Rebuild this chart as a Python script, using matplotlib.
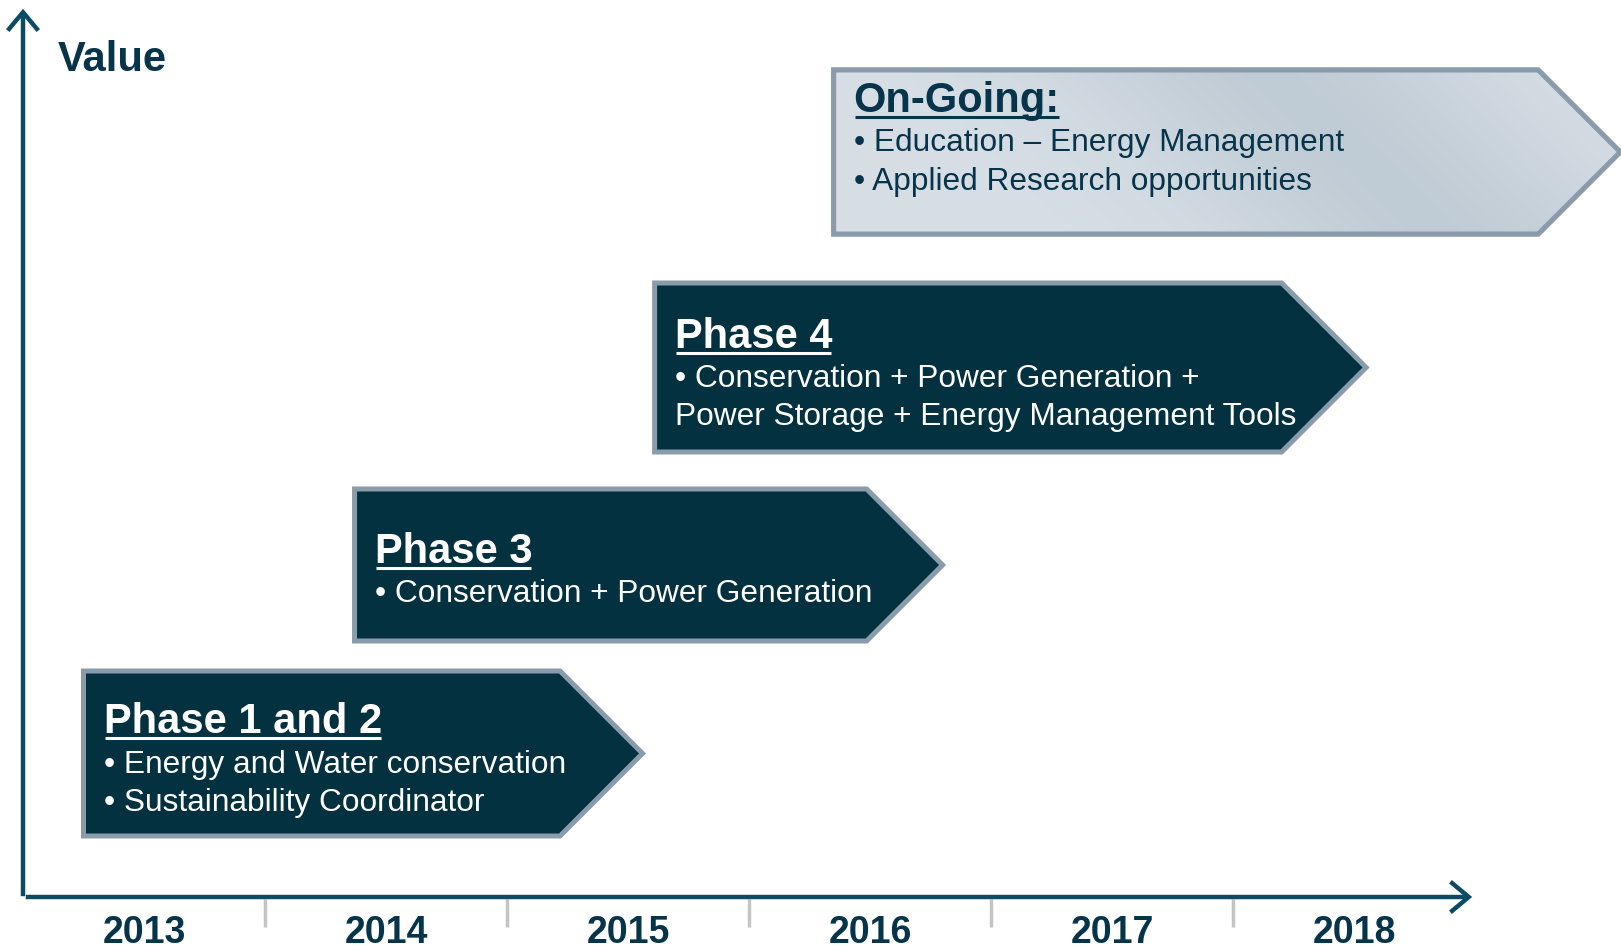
import numpy as np
import matplotlib
matplotlib.use('Agg')
import matplotlib.pyplot as plt
from matplotlib.patches import Polygon, FancyArrowPatch
from matplotlib.lines import Line2D

# ---- data -------------------------------------------------------------
years = [2013, 2014, 2015, 2016, 2017, 2018]
phase_titles = ['Phase 1 and 2', 'Phase 3', 'Phase 4', 'On-Going:']
phase_lines = [
    ['\u2022 Energy and Water conservation', '\u2022 Sustainability Coordinator'],
    ['\u2022 Conservation + Power Generation'],
    ['\u2022 Conservation + Power Generation +', 'Power Storage + Energy Management Tools'],
    ['\u2022 Education \u2013 Energy Management', '\u2022 Applied Research opportunities'],
]
# arrow extents: start year, tip year, low value, high value
phase_start = [2012.75, 2013.87, 2015.11, 2015.85]
phase_tip = [2015.06, 2016.30, 2018.05, 2019.10]
phase_low = [61, 256, 445, 663]
phase_high = [226, 408, 614, 827]
y_label = 'Value'

# ---- style ------------------------------------------------------------
DARK = '#03313f'
BORDER = '#8a9bab'
AXIS = '#0b4c64'
TXT_DARK = '#06344a'
PX_PER_YEAR = 242.0
FONT = 'Liberation Sans'

# title offset from box center and line offsets (pixels)
title_dy = [37, 18, 36, 56]
line_dy = [[-8, -46], [-26], [-8, -46], [12, -27]]

fig = plt.figure(figsize=(16.21, 9.47), dpi=100)
ax = fig.add_axes([0, 0, 1, 1])
ax.set_xlim(2013 - 144 / PX_PER_YEAR, 2013 + (1621 - 144) / PX_PER_YEAR)
ax.set_ylim(-50, 897)
ax.axis('off')

# axes arrows
for tail, head in [((2012.5, -2), (2012.5, 891)), ((2012.5, 0), (2018.5, 0))]:
    ax.add_patch(FancyArrowPatch(tail, head, arrowstyle='->,head_length=0.6,head_width=0.5',
                                 mutation_scale=22, lw=3.2, color=AXIS, capstyle='butt',
                                 joinstyle='miter', zorder=5))

# year separators and labels
for y in years[:-1]:
    ax.plot([y + 0.5, y + 0.5], [-2, -30], color='#c4c4c4', lw=2.5, solid_capstyle='butt')
for y in years:
    ax.text(y, -46, str(y), ha='center', va='baseline', fontsize=27, fontweight='bold',
            color=TXT_DARK, family=FONT)

ax.text(2012.5 + 35 / PX_PER_YEAR, 897 - 60, y_label, fontsize=30, fontweight='bold',
        color=TXT_DARK, family=FONT, va='center', ha='left')

# phase arrows
titles = []
for i in range(len(phase_titles)):
    x0, xt, lo, hi = phase_start[i], phase_tip[i], phase_low[i], phase_high[i]
    half = (hi - lo) / 2.0
    xb = xt - half / PX_PER_YEAR
    mid = (hi + lo) / 2.0
    pts = [(x0, lo), (xb, lo), (xt, mid), (xb, hi), (x0, hi)]
    last = i == len(phase_titles) - 1
    poly = Polygon(pts, closed=True, facecolor=DARK if not last else '#d3dbe2',
                   edgecolor=BORDER, lw=3.6, joinstyle='miter', zorder=3)
    ax.add_patch(poly)
    if last:
        # light gradient fill with a soft diagonal band
        gx = np.linspace(0, 1, 400)
        gy = np.linspace(0, 1, 120)
        GX, GY = np.meshgrid(gx, gy)
        band = np.exp(-((GX - 0.66 + 0.22 * (GY - 0.5)) / 0.26) ** 2)
        c0 = np.array([0.843, 0.871, 0.898])
        c1 = np.array([0.755, 0.800, 0.838])
        img = c0 + (c1 - c0) * band[..., None]
        im = ax.imshow(img, extent=(x0, xt, lo, hi), origin='lower', aspect='auto',
                       zorder=3.5, interpolation='bilinear')
        clip = Polygon(pts, closed=True, transform=ax.transData)
        im.set_clip_path(clip)
        ax.add_patch(Polygon(pts, closed=True, facecolor='none', edgecolor=BORDER,
                             lw=3.6, joinstyle='miter', zorder=4))
    tcol = 'white' if not last else TXT_DARK
    tx = x0 + 20 / PX_PER_YEAR
    t = ax.text(tx, mid + title_dy[i] - 16, phase_titles[i], fontsize=30, fontweight='bold',
                color=tcol, family=FONT, va='baseline', ha='left', zorder=6)
    titles.append((t, tcol))
    for line, dy in zip(phase_lines[i], line_dy[i]):
        ax.text(tx, mid + dy - 11, line, fontsize=22.8, color=tcol, family=FONT,
                va='baseline', ha='left', zorder=6)

# underline the titles
fig.canvas.draw()
renderer = fig.canvas.get_renderer()
inv = ax.transData.inverted()
for t, col in titles:
    bb = t.get_window_extent(renderer)
    bx, by = t.get_transform().transform(t.get_position())
    p0 = inv.transform((bb.x0 + 1, by - 5))
    p1 = inv.transform((bb.x1 - 1, by - 5))
    ax.add_line(Line2D([p0[0], p1[0]], [p0[1], p1[1]], color=col, lw=2.2, zorder=6,
                       solid_capstyle='butt'))

fig.savefig('out.png', dpi=100)
